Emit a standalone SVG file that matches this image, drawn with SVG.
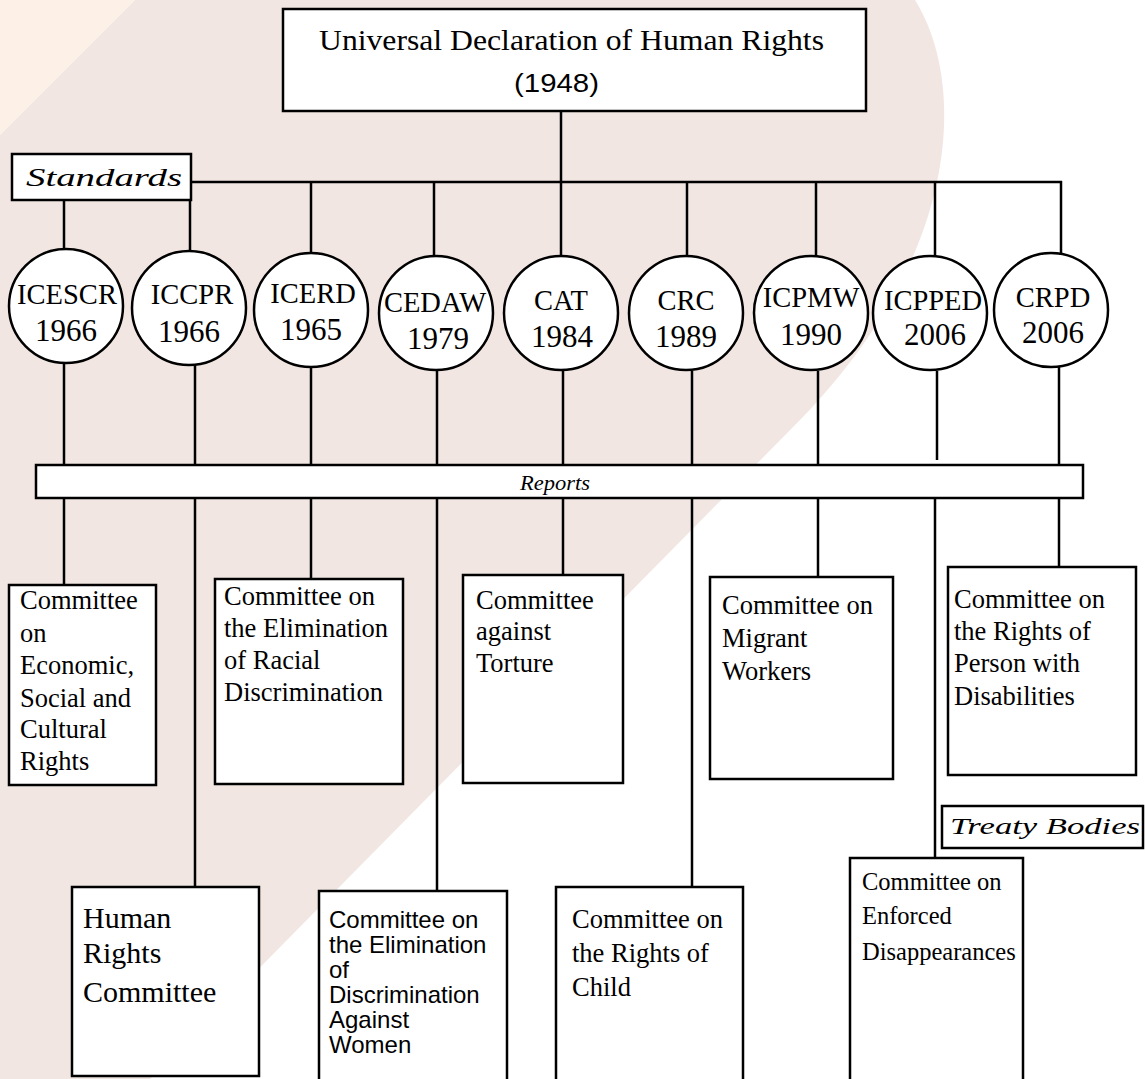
<svg xmlns="http://www.w3.org/2000/svg" width="1145" height="1079" viewBox="0 0 1145 1079">
<style>
.box{fill:#fff;stroke:#000;stroke-width:2.5}
.ln{stroke:#000;stroke-width:2.5;fill:none}
.serif{font-family:"Liberation Serif","Times New Roman",serif;fill:#000}
.sans{font-family:"Liberation Sans",Arial,sans-serif;fill:#000}
.script{font-family:"Liberation Serif",serif;font-style:italic;fill:#000}
.nm{font-size:28.5px;text-anchor:middle}
.yr{font-size:31px;text-anchor:middle}
.t26{font-size:26.5px}
</style>
<rect x="0" y="0" width="1145" height="1079" fill="#fff"/>
<path d="M135,0 L915,0 C965,80 965,250 800,420 L150,1079 L0,1079 L0,135 Z" fill="#f1e6e2"/>
<path d="M0,0 L135,0 L0,135 Z" fill="#fdf0e7"/>

<g id="connectors">
<line class="ln" x1="561" y1="111" x2="561" y2="256"/>
<line class="ln" x1="191" y1="182" x2="1062" y2="182"/>
<line class="ln" x1="64" y1="200" x2="64" y2="249"/>
<line class="ln" x1="190" y1="200" x2="190" y2="251"/>
<line class="ln" x1="311" y1="182" x2="311" y2="252"/>
<line class="ln" x1="434" y1="182" x2="434" y2="256"/>
<line class="ln" x1="687" y1="182" x2="687" y2="256"/>
<line class="ln" x1="816" y1="182" x2="816" y2="256"/>
<line class="ln" x1="935" y1="182" x2="935" y2="256"/>
<line class="ln" x1="1061" y1="181" x2="1061" y2="253"/>
<line class="ln" x1="64" y1="364" x2="64" y2="588"/>
<line class="ln" x1="195" y1="365" x2="195" y2="887"/>
<line class="ln" x1="311" y1="368" x2="311" y2="579"/>
<line class="ln" x1="437" y1="371" x2="437" y2="891"/>
<line class="ln" x1="563" y1="371" x2="563" y2="575"/>
<line class="ln" x1="692" y1="371" x2="692" y2="887"/>
<line class="ln" x1="818" y1="371" x2="818" y2="577"/>
<line class="ln" x1="937" y1="371" x2="937" y2="460"/>
<line class="ln" x1="935" y1="498" x2="935" y2="858"/>
<line class="ln" x1="1059" y1="367" x2="1059" y2="567"/>
</g>

<g id="udhr">
<rect class="box" x="283" y="9" width="583" height="102"/>
<text class="serif" x="319" y="50" font-size="30" textLength="505" lengthAdjust="spacingAndGlyphs">Universal Declaration of Human Rights</text>
<text class="sans" x="514" y="92" font-size="25" textLength="85" lengthAdjust="spacingAndGlyphs">(1948)</text>
</g>

<g id="standards">
<rect class="box" x="12" y="154" width="179" height="46"/>
<text class="script" x="26" y="186" font-size="26" textLength="156" lengthAdjust="spacingAndGlyphs">Standards</text>
</g>

<g id="icescr"><circle class="box" cx="66" cy="306" r="57"/><text class="serif nm" x="67" y="304">ICESCR</text><text class="serif yr" x="66" y="341">1966</text></g>
<g id="iccpr"><circle class="box" cx="189" cy="308" r="57"/><text class="serif nm" x="192" y="304">ICCPR</text><text class="serif yr" x="189" y="342">1966</text></g>
<g id="icerd"><circle class="box" cx="311" cy="310" r="57"/><text class="serif nm" x="313" y="303">ICERD</text><text class="serif yr" x="311" y="340">1965</text></g>
<g id="cedaw"><circle class="box" cx="436" cy="313" r="57"/><text class="serif nm" x="435" y="312">CEDAW</text><text class="serif yr" x="438" y="349">1979</text></g>
<g id="cat"><circle class="box" cx="561" cy="313" r="57"/><text class="serif nm" x="561" y="310">CAT</text><text class="serif yr" x="562" y="347">1984</text></g>
<g id="crc"><circle class="box" cx="686" cy="313" r="57"/><text class="serif nm" x="686" y="310">CRC</text><text class="serif yr" x="686" y="347">1989</text></g>
<g id="icpmw"><circle class="box" cx="811" cy="313" r="57"/><text class="serif nm" x="811" y="307">ICPMW</text><text class="serif yr" x="811" y="345">1990</text></g>
<g id="icpped"><circle class="box" cx="930" cy="313" r="57"/><text class="serif nm" x="933" y="310">ICPPED</text><text class="serif yr" x="935" y="345">2006</text></g>
<g id="crpd"><circle class="box" cx="1051" cy="310" r="57"/><text class="serif nm" x="1053" y="307">CRPD</text><text class="serif yr" x="1053" y="343">2006</text></g>

<g id="reports">
<rect class="box" x="36" y="465" width="1047" height="33"/>
<text class="script" x="520" y="490" font-size="20" textLength="70" lengthAdjust="spacingAndGlyphs">Reports</text>
</g>

<g id="cescr">
<rect class="box" x="9" y="585" width="147" height="200"/>
<text class="serif t26"><tspan x="20" y="609">Committee</tspan><tspan x="20" y="642">on</tspan><tspan x="20" y="674">Economic,</tspan><tspan x="20" y="707">Social and</tspan><tspan x="20" y="738">Cultural</tspan><tspan x="20" y="770">Rights</tspan></text>
</g>
<g id="hrc">
<rect class="box" x="72" y="887" width="187" height="189"/>
<text class="serif" font-size="30"><tspan x="83" y="928">Human</tspan><tspan x="83" y="963">Rights</tspan><tspan x="83" y="1002">Committee</tspan></text>
</g>
<g id="cerd">
<rect class="box" x="215" y="579" width="188" height="205"/>
<text class="serif t26"><tspan x="224" y="605">Committee on</tspan><tspan x="224" y="637">the Elimination</tspan><tspan x="224" y="669">of Racial</tspan><tspan x="224" y="701">Discrimination</tspan></text>
</g>
<g id="cedaw-c">
<rect class="box" x="319" y="891" width="188" height="200"/>
<text class="sans" font-size="24"><tspan x="329" y="928">Committee on</tspan><tspan x="329" y="953">the Elimination</tspan><tspan x="329" y="978">of</tspan><tspan x="329" y="1003">Discrimination</tspan><tspan x="329" y="1028">Against</tspan><tspan x="329" y="1053">Women</tspan></text>
</g>
<g id="cat-c">
<rect class="box" x="463" y="575" width="160" height="208"/>
<text class="serif t26"><tspan x="476" y="609">Committee</tspan><tspan x="476" y="640">against</tspan><tspan x="476" y="672">Torture</tspan></text>
</g>
<g id="crc-c">
<rect class="box" x="556" y="887" width="187" height="200"/>
<text class="serif t26"><tspan x="572" y="928">Committee on</tspan><tspan x="572" y="962">the Rights of</tspan><tspan x="572" y="996">Child</tspan></text>
</g>
<g id="cmw">
<rect class="box" x="710" y="577" width="183" height="202"/>
<text class="serif t26"><tspan x="722" y="614">Committee on</tspan><tspan x="722" y="647">Migrant</tspan><tspan x="722" y="680">Workers</tspan></text>
</g>
<g id="ced">
<rect class="box" x="850" y="858" width="173" height="232"/>
<text class="serif" font-size="24.5"><tspan x="862" y="890">Committee on</tspan><tspan x="862" y="924">Enforced</tspan><tspan x="862" y="960">Disappearances</tspan></text>
</g>
<g id="crpd-c">
<rect class="box" x="948" y="567" width="188" height="208"/>
<text class="serif t26"><tspan x="954" y="608">Committee on</tspan><tspan x="954" y="640">the Rights of</tspan><tspan x="954" y="672">Person with</tspan><tspan x="954" y="705">Disabilities</tspan></text>
</g>
<g id="treaty-bodies">
<rect class="box" x="942" y="806" width="201" height="42"/>
<text class="script" x="950" y="834" font-size="24" textLength="190" lengthAdjust="spacingAndGlyphs">Treaty Bodies</text>
</g>
</svg>
